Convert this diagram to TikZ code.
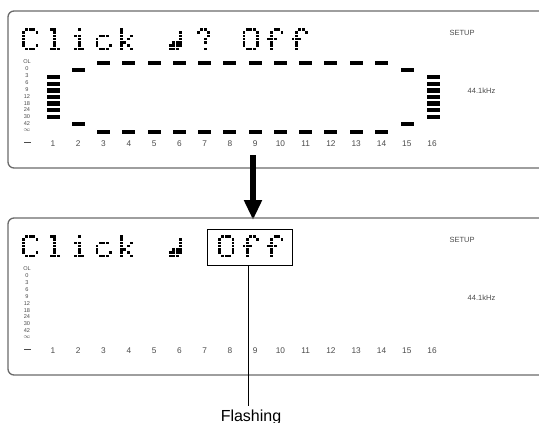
\documentclass[tikz,border=0pt]{standalone}
\usepackage{fontspec}
\setmainfont{Liberation Sans}
\usetikzlibrary{arrows.meta}
\definecolor{panelgray}{HTML}{6A6A6A}
\definecolor{labgray}{HTML}{4A4A4A}
\tikzset{
  panel/.style={draw=panelgray, line width=1.3pt, rounded corners=6pt},
  dmdot/.style={fill=black},
  seg/.style={fill=black},
  numlabel/.style={text=labgray, font=\fontsize{8.3}{8.3}\selectfont, inner sep=0pt},
  tinylabel/.style={text=labgray, font=\fontsize{5.6}{5.6}\selectfont, inner sep=0pt},
  sidelabel/.style={text=labgray, font=\fontsize{7.5}{7.5}\selectfont, inner sep=0pt},
  dashlabel/.style={draw=labgray, line width=0.8pt},
}
% dot-matrix glyphs (col/row)
\def\glyphC{1/0,2/0,3/0,0/1,4/1,0/2,0/3,0/4,0/5,4/5,1/6,2/6,3/6}
\def\glyphl{1/0,2/0,2/1,2/2,2/3,2/4,2/5,1/6,2/6,3/6}
\def\glyphi{2/0,1/2,2/2,2/3,2/4,2/5,1/6,2/6,3/6}
\def\glyphc{1/2,2/2,3/2,0/3,0/4,0/5,4/5,1/6,2/6,3/6}
\def\glyphk{0/0,0/1,0/2,3/2,0/3,2/3,0/4,1/4,0/5,2/5,0/6,3/6}
\def\glyphnote{3/1,3/2,3/3,3/4,1/4,2/4,0/5,1/5,2/5,3/5,0/6,1/6,2/6}
\def\glyphq{2/0,3/0,1/1,4/1,4/2,3/3,3/4,3/6}
\def\glyphO{1/0,2/0,3/0,0/1,4/1,0/2,4/2,0/3,4/3,0/4,4/4,0/5,4/5,1/6,2/6,3/6}
\def\glyphf{2/0,3/0,1/1,4/1,1/2,0/3,1/3,2/3,1/4,1/5,1/6}
\newcommand\dmglyph[3]{%
  \foreach \c/\r in #3 {\fill[dmdot] ({#1+\c*3.4},{#2+\r*3.25}) rectangle +(2.8,2.7);}%
}
\begin{document}
\begin{tikzpicture}[x=1pt,y=-1pt]
\useasboundingbox (0,0) rectangle (539,423);
\clip (0,0) rectangle (539,423);

% ---------- top panel ----------
\draw[panel] (560,11) -- (8,11) -- (8,168) -- (560,168);
\dmglyph{22}{28}{\glyphC}
\dmglyph{46.5}{28}{\glyphl}
\dmglyph{71}{28}{\glyphi}
\dmglyph{95.5}{28}{\glyphc}
\dmglyph{120}{28}{\glyphk}
\dmglyph{169}{28}{\glyphnote}
\dmglyph{193.5}{28}{\glyphq}
\dmglyph{242.5}{28}{\glyphO}
\dmglyph{267}{28}{\glyphf}
\dmglyph{291.5}{28}{\glyphf}

% level labels
\foreach \t [count=\i from 0] in {OL,0,3,6,9,12,18,24,30,42,$\infty$} {
  \node[tinylabel] (tl\i) at (27,{62+\i*6.85}) {\t};
}
\coordinate (tdashL) at (24,142);
\coordinate (tdashR) at (31,142);
\draw[dashlabel] (tdashL) -- (tdashR);
\foreach \n in {1,...,16} {
  \node[numlabel] (tn\n) at ({53+(\n-1)*25.27},144) {\n};
}
% meter segments
\foreach \j in {0,...,6} {
  \fill[seg] (46.5,{75+\j*6.6}) rectangle +(13,4.3);
  \fill[seg] (426.5,{75+\j*6.6}) rectangle +(13,4.3);
}
\foreach \cx in {78.3,407.3} {
  \fill[seg] ({\cx-6.5},68) rectangle +(13,4);
  \fill[seg] ({\cx-6.5},121.5) rectangle +(13,4);
}
\foreach \n in {3,...,14} {
  \fill[seg] ({53+(\n-1)*25.27-6.5},60.5) rectangle +(13,4);
  \fill[seg] ({53+(\n-1)*25.27-6.5},130) rectangle +(13,4);
}
\node[sidelabel] (tsetup) at (462,33) {SETUP};
\node[sidelabel] (tkhz) at (481.5,91) {44.1kHz};

% ---------- arrow ----------
\coordinate (arrS) at (253,155);
\coordinate (arrE) at (253,220);
\draw[line width=5.5pt, -{Triangle[width=17pt,length=20pt]}] (arrS) -- (arrE);

% ---------- bottom panel ----------
\draw[panel] (560,218) -- (8,218) -- (8,375) -- (560,375);
\dmglyph{22}{235}{\glyphC}
\dmglyph{46.5}{235}{\glyphl}
\dmglyph{71}{235}{\glyphi}
\dmglyph{95.5}{235}{\glyphc}
\dmglyph{120}{235}{\glyphk}
\dmglyph{169}{235}{\glyphnote}
\dmglyph{218}{235}{\glyphO}
\dmglyph{242.5}{235}{\glyphf}
\dmglyph{267}{235}{\glyphf}

\foreach \t [count=\i from 0] in {OL,0,3,6,9,12,18,24,30,42,$\infty$} {
  \node[tinylabel] (bl\i) at (27,{269+\i*6.85}) {\t};
}
\coordinate (bdashL) at (24,349);
\coordinate (bdashR) at (31,349);
\draw[dashlabel] (bdashL) -- (bdashR);
\foreach \n in {1,...,16} {
  \node[numlabel] (bn\n) at ({53+(\n-1)*25.27},351) {\n};
}
\node[sidelabel] (bsetup) at (462,240) {SETUP};
\node[sidelabel] (bkhz) at (481.5,298) {44.1kHz};

\node[draw, line width=0.9pt, minimum width=85pt, minimum height=36pt, inner sep=0pt, anchor=north west] (offbox) at (207,229) {};
\node[font=\fontsize{16}{16}\selectfont, anchor=base] (flash) at (251,421) {Flashing};
\draw[line width=0.9pt] ([xshift=-2pt]offbox.south) -- ([xshift=-2pt]offbox.south |- flash.north);
\end{tikzpicture}
\end{document}
